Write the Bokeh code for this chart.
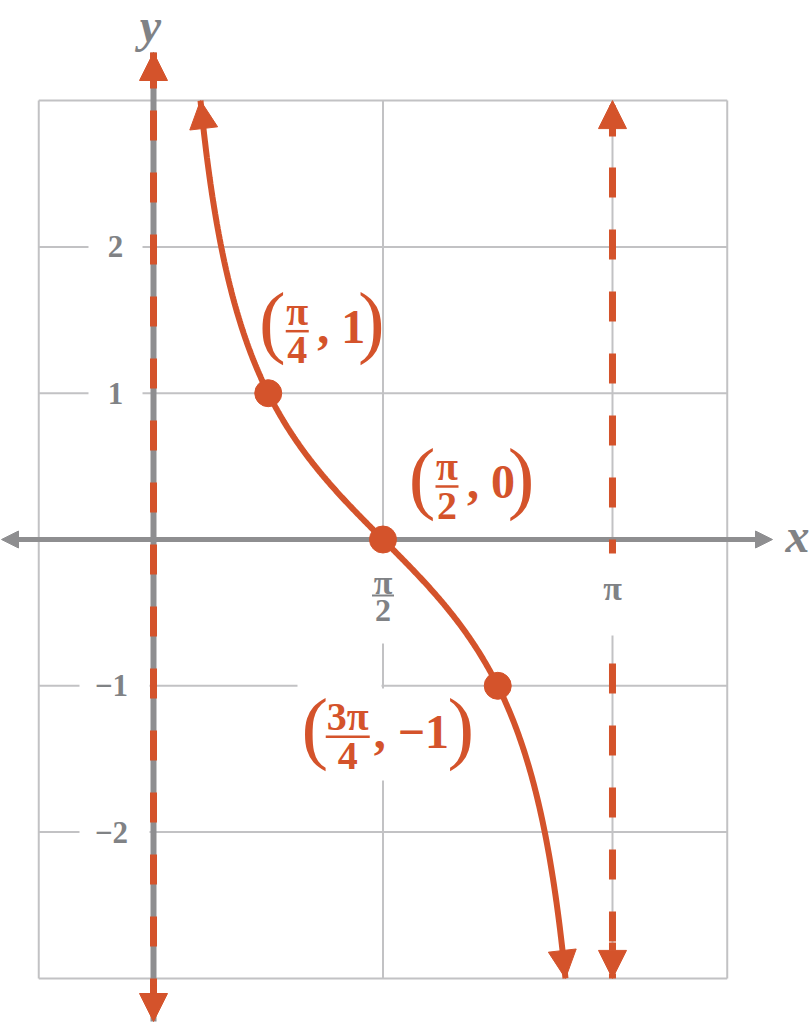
import numpy as np
from bokeh.plotting import figure
from bokeh.models import Range1d, Arrow, NormalHead
from bokeh.core.properties import value
from bokeh.embed import file_html
from bokeh.resources import INLINE

# ---------------- data ----------------
GRID_X = [-np.pi / 4, 0.0, np.pi / 2, np.pi, 5 * np.pi / 4]
GRID_Y = [-3, -2, -1, 0, 1, 2, 3]
Y_TICKS = [2, 1, -1, -2]
Y_TICK_LABELS = ["2", "1", "\u22121", "\u22122"]
X_TICK_HALF_PI = np.pi / 2
X_TICK_PI = np.pi
ASYMPTOTE_X = [0.0, np.pi]
POINT_X = [np.pi / 4, np.pi / 2, 3 * np.pi / 4]
POINT_Y = [1, 0, -1]
CURVE_LIMIT = 3.0
# graph of y = cot x on (0, pi), shown for -3 <= y <= 3
CURVE_X = np.linspace(np.arctan(1 / CURVE_LIMIT), np.pi - np.arctan(1 / CURVE_LIMIT), 400)
CURVE_Y = np.cos(CURVE_X) / np.sin(CURVE_X)

# ---------------- style ----------------
RED = "#d4532b"
AXIS_GRAY = "#8e8e90"
GRID_GRAY = "#c2c2c4"
TEXT_GRAY = "#808285"
FONT = value("Liberation Serif")

W, H = 811, 1024
X0_PAGE, Y0_PAGE = 153.0, 539.0   # pixel of the origin
SX, SY = 146.1, 146.3             # pixels per unit


def dx(px):
    return (px - X0_PAGE) / SX


def dy(py):
    return (Y0_PAGE - py) / SY


p = figure(width=W, height=H, output_backend="svg", toolbar_location=None,
           x_range=Range1d(dx(0), dx(W)), y_range=Range1d(dy(H), dy(0)),
           min_border=0, title=None)
p.axis.visible = False
p.grid.visible = False
p.outline_line_color = None
p.background_fill_color = "white"
p.border_fill_color = "white"

# grid box and lines
gx0, gx1 = GRID_X[0], GRID_X[-1]
gy0, gy1 = GRID_Y[0], GRID_Y[-1]
p.multi_line(xs=[[g, g] for g in GRID_X] + [[gx0, gx1] for g in GRID_Y],
             ys=[[gy0, gy1] for g in GRID_X] + [[g, g] for g in GRID_Y],
             line_color=GRID_GRAY, line_width=2)

# gray coordinate axes
AX_LEFT, AX_RIGHT = dx(1), dx(772)
AY_TOP, AY_BOTTOM = dy(52), dy(1021)
p.segment(x0=[AX_LEFT + 10 / SX], y0=[0], x1=[AX_RIGHT - 10 / SX], y1=[0], line_color=AXIS_GRAY, line_width=5)
p.segment(x0=[0], y0=[AY_TOP], x1=[0], y1=[AY_BOTTOM], line_color=AXIS_GRAY, line_width=6)
for xs, xe in [(AX_RIGHT - 20 / SX, AX_RIGHT), (AX_LEFT + 20 / SX, AX_LEFT)]:
    p.add_layout(Arrow(end=NormalHead(size=17, fill_color=AXIS_GRAY, line_color=AXIS_GRAY, line_width=1),
                       x_start=xs, y_start=0, x_end=xe, y_end=0, line_alpha=0))

# asymptotes (red dashed)
p.line(x=[ASYMPTOTE_X[0]] * 2, y=[AY_TOP, AY_BOTTOM], line_color=RED, line_width=7,
       line_dash="30 32", line_dash_offset=4)
p.line(x=[ASYMPTOTE_X[1]] * 2, y=[gy1, gy0], line_color=RED, line_width=7,
       line_dash="30 32", line_dash_offset=57)
for ax, ys, ye in [(ASYMPTOTE_X[0], AY_TOP - 36 / SY, AY_TOP),
                   (ASYMPTOTE_X[0], AY_BOTTOM + 36 / SY, AY_BOTTOM),
                   (ASYMPTOTE_X[1], gy1 - 36 / SY, gy1),
                   (ASYMPTOTE_X[1], gy0 + 36 / SY, gy0)]:
    p.add_layout(Arrow(end=NormalHead(size=28, fill_color=RED, line_color=RED, line_width=1),
                       x_start=ax, y_start=ys, x_end=ax, y_end=ye,
                       line_color=RED, line_width=7))

# white masks behind labels
mask_l, mask_r, mask_t, mask_b = [], [], [], []


def mask(l, r, t, b):
    mask_l.append(dx(l)); mask_r.append(dx(r)); mask_t.append(dy(t)); mask_b.append(dy(b))


for t in Y_TICKS:
    ty = Y0_PAGE - t * SY
    if t > 0:
        mask(88, 142, ty - 14, ty + 14)
    else:
        mask(79, 149, ty - 14, ty + 14)
mask(366, 400, 551, 643)
mask(596, 628, 553, 635)
mask(297, 381, 680, 690)
mask(378, 388, 688, 780)
p.quad(left=mask_l, right=mask_r, top=mask_t, bottom=mask_b, fill_color="white", line_color=None)

# tick labels
p.text(x=[dx(115) if t > 0 else dx(111) for t in Y_TICKS], y=Y_TICKS, text=Y_TICK_LABELS,
       text_font=FONT, text_font_style="bold", text_font_size="31px", text_color=TEXT_GRAY,
       text_align="center", text_baseline="middle")
p.text(x=[X_TICK_HALF_PI], y=[dy(582)], text=["\u03c0"], text_font=FONT, text_font_style="bold",
       text_font_size="34px", text_color=TEXT_GRAY, text_align="center", text_baseline="middle")
p.segment(x0=[X_TICK_HALF_PI - 11 / SX], x1=[X_TICK_HALF_PI + 11 / SX], y0=[dy(595)], y1=[dy(595)],
          line_color=TEXT_GRAY, line_width=2)
p.text(x=[X_TICK_HALF_PI], y=[dy(610)], text=["2"], text_font=FONT, text_font_style="bold",
       text_font_size="32px", text_color=TEXT_GRAY, text_align="center", text_baseline="middle")
p.text(x=[X_TICK_PI], y=[dy(588)], text=["\u03c0"], text_font=FONT, text_font_style="bold",
       text_font_size="34px", text_color=TEXT_GRAY, text_align="center", text_baseline="middle")

# axis names
p.text(x=[dx(150)], y=[dy(25)], text=["y"], text_font=FONT, text_font_style="bold italic",
       text_font_size="48px", text_color=TEXT_GRAY, text_align="center", text_baseline="middle")
p.text(x=[dx(797)], y=[dy(535)], text=["x"], text_font=FONT, text_font_style="bold italic",
       text_font_size="48px", text_color=TEXT_GRAY, text_align="center", text_baseline="middle")

# curve with arrowheads
p.line(CURVE_X, CURVE_Y, line_color=RED, line_width=6)
for i0, i1 in [(8, 0), (-9, -1)]:
    p.add_layout(Arrow(end=NormalHead(size=28, fill_color=RED, line_color=RED, line_width=1),
                       x_start=CURVE_X[i0], y_start=CURVE_Y[i0], x_end=CURVE_X[i1], y_end=CURVE_Y[i1],
                       line_alpha=0))

# points
p.scatter(POINT_X, POINT_Y, size=27, fill_color=RED, line_color=RED)

# point labels: (point index, numerator, denominator, tail, paren offset x, paren offset y)
LABELS = [
    (0, "\u03c0", "4", ", 1", 4, -64),
    (1, "\u03c0", "2", ", 0", 39, -55),
    (2, "3\u03c0", "4", ", \u22121", -183, 49),
]


def put(xd, yd, txt, size, style="bold", align="center"):
    p.text(x=[xd], y=[yd], text=[txt], text_font=FONT, text_font_style=style,
           text_font_size=size, text_color=RED, text_align=align, text_baseline="middle")


for idx, num, den, tail, ox, oy in LABELS:
    px0 = X0_PAGE + POINT_X[idx] * SX + ox
    py0 = Y0_PAGE - POINT_Y[idx] * SY + oy
    wide = len(num) > 1
    fc = px0 + (33 if wide else 25)             # fraction centre
    half = 22 if wide else 11.5
    rp = px0 + (146 if wide else 99)             # right paren centre
    tail_x = fc + (26 if wide else 20)
    put(dx(px0), dy(py0 - 8), "(", "80px", style="normal")
    put(dx(fc), dy(py0 - 18), num, "40px")
    p.segment(x0=[dx(fc - half)], x1=[dx(fc + half)], y0=[dy(py0 + 2)], y1=[dy(py0 + 2)],
              line_color=RED, line_width=2.5)
    put(dx(fc), dy(py0 + 21), den, "40px")
    put(dx(tail_x), dy(py0 - 3), tail, "48px", align="left")
    put(dx(rp), dy(py0 - 8), ")", "80px", style="normal")

open("out.html", "w").write(file_html(p, INLINE))
